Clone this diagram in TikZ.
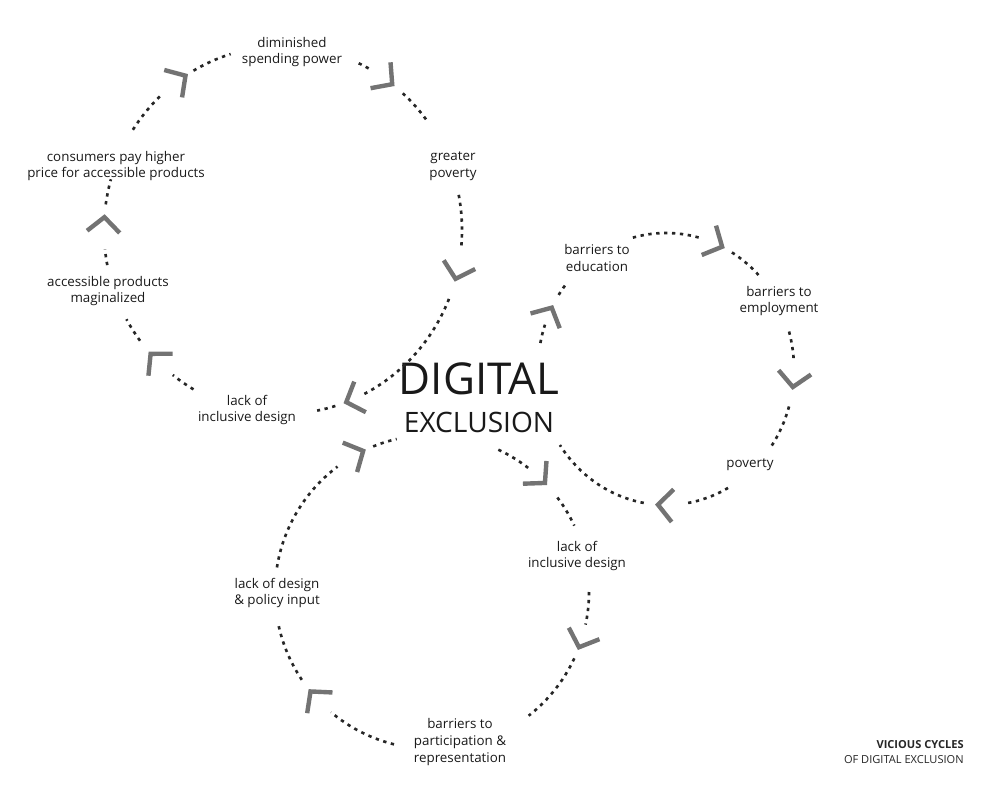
\documentclass[tikz,border=0pt]{standalone}
\usepackage{fontspec}
\setmainfont{Open Sans}
\usetikzlibrary{calc}

\begin{document}
\begin{tikzpicture}[x=0.2mm,y=-0.2mm,
lbl/.style={align=center,inner sep=0pt,text=black!90,font=\fontsize{7.6}{9.6}\selectfont},
dots/.style={line width=1.5pt,dash pattern=on 1.9pt off 2.6pt,black!85},
chev/.style={line width=2.5pt,black!55,miter limit=10}]

\useasboundingbox (0,0) rectangle (1000,798);

\coordinate (ca) at (283,230);
\coordinate (cb) at (666,369);
\coordinate (cc) at (432,592);

\node[inner sep=0pt,text=black!90,font=\fontsize{25}{25}\selectfont] (digital) at (479,379) {DIGITAL};
\node[inner sep=0pt,text=black!90,font=\fontsize{16}{16}\selectfont] (exclusion) at (479,422) {EXCLUSION};

\node[lbl] (spend) at (292,52) {diminished\\spending power};
\node[lbl] (greater) at (453,166) {greater\\poverty};
\node[lbl] (lackA) at (247,410) {lack of\\inclusive design};
\node[lbl] (margin) at (108,291) {accessible products\\maginalized};
\node[lbl] (price) at (116,166) {consumers pay higher\\price for accessible products};

\node[lbl] (educ) at (597,258) {barriers to\\education};
\node[lbl] (employ) at (779,301) {barriers to\\employment};
\node[lbl] (pov) at (750,465) {poverty};

\node[lbl] (lackC) at (577,556) {lack of\\inclusive design};
\node[lbl] (partic) at (460,742) {barriers to\\participation \&\\representation};
\node[lbl] (policy) at (277,593) {lack of design\\\& policy input};

\node[anchor=north east,align=right,inner sep=0pt,text=black!85,font=\fontsize{6.3}{8.8}\selectfont] (title) at (964,740) {\textbf{VICIOUS CYCLES}\\OF DIGITAL EXCLUSION};

\foreach \a/\b in {188/196,213/227,240/253,295/299,312/324,349/366,22/63,73/79,120/128,143/151,169/174}
\draw[dots] ($(ca)+(\a:179 and 184)$) arc[start angle=\a,end angle=\b,x radius=179,y radius=184];
\foreach \a/\b in {255/285,301/318,344/357,16/35,61/81,100/146,191/199,213/218}
\draw[dots] ($(cb)+(\a:128 and 136)$) arc[start angle=\a,end angle=\b,x radius=128,y radius=136];
\foreach \a/\b in {248/257,295/308,323/335,0/12,25/52,104/130,146/169,189/233}
\draw[dots] ($(cc)+(\a:157 and 157)$) arc[start angle=\a,end angle=\b,radius=157];

\foreach \t in {184,237,307.6,15.4,69.3,137.7}
\draw[chev] ($(ca)+(\t:179 and 184)+(\t-42:22)$) -- ($(ca)+(\t:179 and 184)$) -- ++(\t-138:22);
\foreach \t in {296,7.6,93.6,206.8}
\draw[chev] ($(cb)+(\t:128 and 136)+(\t-42:22)$) -- ($(cb)+(\t:128 and 136)$) -- ++(\t-138:22);
\foreach \t in {316,20.6,140.7,244}
\draw[chev] ($(cc)+(\t:157 and 157)+(\t-42:22)$) -- ($(cc)+(\t:157 and 157)$) -- ++(\t-138:22);

\end{tikzpicture}
\end{document}
